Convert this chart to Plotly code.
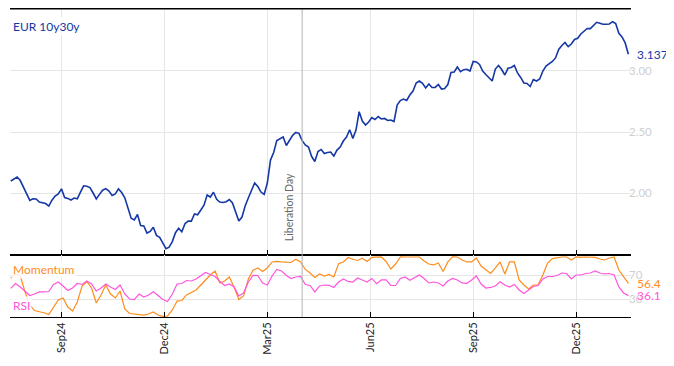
import pandas as pd
import plotly.graph_objects as go

# ---------------- data ----------------
START = "2024-07-18"
eur_10y30y = [
    2.098, 2.115, 2.131, 2.102, 2.049, 1.994, 1.939, 1.953, 1.951, 1.926,
    1.920, 1.914, 1.893, 1.941, 1.975, 1.992, 2.034, 1.963, 1.956, 1.943,
    1.959, 1.953, 2.008, 2.059, 2.056, 2.045, 2.000, 1.951, 1.989, 2.023,
    2.036, 2.016, 1.980, 1.993, 2.034, 2.004, 1.961, 1.875, 1.793, 1.780,
    1.824, 1.734, 1.730, 1.672, 1.685, 1.720, 1.653, 1.636, 1.591, 1.544,
    1.556, 1.602, 1.675, 1.711, 1.683, 1.748, 1.770, 1.770, 1.829, 1.822,
    1.861, 1.900, 1.984, 1.967, 2.006, 1.948, 1.926, 1.922, 1.929, 1.947,
    1.918, 1.834, 1.770, 1.803, 1.893, 1.959, 2.029, 2.082, 2.053, 2.008,
    1.988, 2.082, 2.270, 2.332, 2.430, 2.447, 2.459, 2.389, 2.430, 2.473,
    2.496, 2.489, 2.429, 2.394, 2.377, 2.299, 2.258, 2.340, 2.357, 2.324,
    2.332, 2.336, 2.303, 2.352, 2.377, 2.426, 2.459, 2.518, 2.448, 2.516,
    2.666, 2.590, 2.557, 2.582, 2.619, 2.602, 2.627, 2.607, 2.611, 2.594,
    2.598, 2.586, 2.721, 2.757, 2.770, 2.758, 2.803, 2.836, 2.902, 2.918,
    2.899, 2.861, 2.893, 2.865, 2.865, 2.889, 2.852, 2.857, 2.889, 2.988,
    2.992, 3.033, 2.994, 3.011, 3.014, 3.000, 3.078, 3.074, 3.054, 3.000,
    2.971, 2.947, 2.918, 3.016, 3.045, 3.012, 2.967, 3.022, 3.029, 3.045,
    2.984, 2.947, 2.902, 2.898, 2.873, 2.930, 2.918, 2.934, 3.000, 3.041,
    3.057, 3.078, 3.107, 3.176, 3.209, 3.234, 3.199, 3.221, 3.258, 3.268,
    3.303, 3.329, 3.348, 3.347, 3.373, 3.399, 3.391, 3.383, 3.383, 3.385,
    3.404, 3.389, 3.309, 3.279, 3.230, 3.137]

momentum = [
    65.0, 72.2, 68.8, 42.2, 20.5, 11.3, 9.3, 7.6, 4.6, 17.1,
    28.8, 32.2, 17.1, 10.5, 25.5, 52.2, 59.3, 48.8, 23.8, 37.2,
    53.8, 38.8, 32.2, 43.8, 13.8, 6.3, 5.5, 5.5, 3.8, 5.5,
    8.8, 3.8, 1.6, 2.2, 12.2, 27.1, 28.0, 37.2, 41.3, 45.5,
    53.8, 63.0, 70.5, 77.2, 57.2, 60.5, 67.2, 50.5, 29.6, 35.5,
    63.8, 78.3, 82.2, 76.3, 82.2, 92.2, 93.3, 92.2, 92.2, 91.3,
    96.7, 92.2, 79.7, 73.8, 66.3, 72.2, 68.8, 71.3, 67.2, 89.3,
    92.2, 99.7, 96.7, 94.7, 98.3, 93.0, 99.7, 100.5, 100.5, 93.0,
    80.5, 88.8, 100.8, 100.5, 100.8, 100.5, 100.5, 93.8, 88.8, 87.2,
    90.5, 76.3, 92.2, 100.8, 100.5, 95.5, 92.2, 92.2, 98.8, 85.5,
    78.8, 73.0, 82.2, 92.2, 72.2, 92.2, 92.2, 62.2, 53.8, 47.1,
    53.8, 53.8, 70.5, 90.5, 97.9, 99.7, 100.5, 100.5, 95.5, 100.8,
    99.7, 100.5, 100.5, 99.7, 97.1, 95.5, 98.8, 100.5, 78.8, 67.2,
    56.4]

rsi = [
    48.3, 56.3, 50.5, 43.0, 36.3, 38.8, 42.2, 42.2, 43.0, 54.7,
    58.8, 52.2, 44.7, 48.8, 56.3, 54.7, 60.5, 55.5, 43.8, 48.8,
    55.5, 50.5, 46.3, 53.8, 38.8, 30.5, 29.6, 38.8, 33.8, 37.2,
    42.6, 36.3, 29.6, 26.3, 38.8, 55.5, 56.3, 61.3, 60.5, 63.8,
    68.8, 74.6, 71.3, 68.0, 60.0, 53.0, 55.5, 50.5, 35.5, 40.5,
    58.8, 70.0, 69.7, 57.2, 53.8, 68.8, 79.7, 77.2, 69.7, 64.7,
    67.2, 68.0, 54.7, 53.0, 42.2, 52.2, 53.8, 53.3, 49.7, 58.8,
    63.8, 59.7, 58.8, 65.5, 62.2, 58.8, 64.7, 56.0, 62.2, 62.2,
    53.3, 53.0, 64.7, 67.2, 61.7, 66.3, 70.5, 64.7, 57.2, 58.8,
    57.2, 52.2, 60.5, 64.7, 62.2, 57.2, 56.7, 62.2, 68.8, 55.5,
    48.8, 49.7, 52.2, 59.3, 53.8, 50.5, 54.7, 45.5, 39.6, 45.5,
    51.3, 53.0, 63.8, 68.0, 68.0, 69.7, 73.8, 73.0, 63.8, 70.5,
    70.5, 73.0, 73.8, 77.2, 73.8, 72.2, 73.0, 70.5, 50.5, 40.5,
    36.1]

tick_dates = ["2024-09-02", "2024-12-02", "2025-03-03", "2025-06-02", "2025-09-01", "2025-12-01"]
tick_labels = ["Sep24", "Dec24", "Mar25", "Jun25", "Sep25", "Dec25"]
event_date = "2025-04-02"
event_label = "Liberation Day"

# ---------------- figure ----------------
bdays = pd.bdate_range(START, periods=391)
dates_top = bdays[::2]
dates_bot = bdays[::3]

BLUE = "#1538a6"
ORANGE = "#ff8c1a"
MAGENTA = "#ff55dd"
GRID = "#e6e6e6"
LABEL_GREY = "#cfcfcf"
FONT = "Lato"
D = 62 / 308
XRANGE = ["2024-07-17 12:00", "2026-01-16 16:00"]

fig = go.Figure()
fig.add_trace(go.Scatter(x=dates_top, y=eur_10y30y, mode="lines",
                         line=dict(color=BLUE, width=1.6), xaxis="x", yaxis="y",
                         showlegend=False, hoverinfo="skip"))
fig.add_trace(go.Scatter(x=dates_bot, y=momentum, mode="lines",
                         line=dict(color=ORANGE, width=1.2), xaxis="x2", yaxis="y2",
                         showlegend=False, hoverinfo="skip"))
fig.add_trace(go.Scatter(x=dates_bot, y=rsi, mode="lines",
                         line=dict(color=MAGENTA, width=1.2), xaxis="x2", yaxis="y2",
                         showlegend=False, hoverinfo="skip"))

xcommon = dict(type="date", range=XRANGE, rangebreaks=[dict(bounds=["sat", "mon"])],
               tickmode="array", tickvals=tick_dates, ticktext=tick_labels,
               ticks="inside", ticklen=5, tickcolor="black", tickwidth=1,
               showline=True, linecolor="black", linewidth=1, mirror=True,
               showgrid=True, gridcolor=GRID, gridwidth=1, zeroline=False)

# the page body adds an 8px offset, so the figure is sized to fit the window
fig.update_layout(
    width=666, height=358,
    margin=dict(l=2, r=43, t=1, b=49),
    paper_bgcolor="white", plot_bgcolor="white",
    font=dict(family=FONT, size=12, color="#222"),
    xaxis=dict(domain=[0, 1], anchor="y", showticklabels=False, **xcommon),
    xaxis2=dict(domain=[0, 1], anchor="y2", showticklabels=True, tickangle=-90,
                tickfont=dict(size=11, color="#222"), **xcommon),
    yaxis=dict(domain=[D, 1], anchor="x", side="right", range=[1.492, 3.508],
               tickmode="array", tickvals=[2.0, 2.5, 3.0], ticktext=["2.00", "2.50", "3.00"],
               tickfont=dict(size=11.5, color=LABEL_GREY), showgrid=True, gridcolor=GRID,
               zeroline=False, showline=False, ticks="", ticklabelstandoff=-3),
    yaxis2=dict(domain=[0, D], anchor="x2", side="right", range=[0.5, 103.8],
                tickmode="array", tickvals=[30, 70], ticktext=["30", "70"],
                tickfont=dict(size=11.5, color=LABEL_GREY), showgrid=True, gridcolor=GRID,
                zeroline=False, showline=False, ticks="", ticklabelstandoff=-3),
    shapes=[
        dict(type="line", xref="x", yref="paper", x0=event_date, x1=event_date,
             y0=0, y1=1, line=dict(color="#b4b4b4", width=1)),
        dict(type="line", xref="paper", yref="paper", x0=0, x1=1, y0=1, y1=1,
             line=dict(color="black", width=1)),
    ],
)

bg = "rgba(255,255,255,0.85)"
fig.add_annotation(text="EUR 10y30y", xref="paper", yref="paper", x=0, y=1,
                   xanchor="left", yanchor="top", xshift=1, yshift=-8, showarrow=False,
                   font=dict(color=BLUE, size=12), bgcolor=bg)
fig.add_annotation(text="Momentum", xref="paper", yref="paper", x=0, y=D,
                   xanchor="left", yanchor="top", xshift=1, yshift=-5, showarrow=False,
                   font=dict(color=ORANGE, size=12), bgcolor=bg)
fig.add_annotation(text="RSI", xref="paper", yref="paper", x=0, y=0,
                   xanchor="left", yanchor="bottom", xshift=1, yshift=2, showarrow=False,
                   font=dict(color=MAGENTA, size=12), bgcolor=bg)
fig.add_annotation(text=f"{eur_10y30y[-1]:.3f}", xref="paper", yref="y", x=1, y=eur_10y30y[-1],
                   xanchor="left", yanchor="middle", xshift=4, showarrow=False,
                   font=dict(color=BLUE, size=12))
fig.add_annotation(text=f"{momentum[-1]:.1f}", xref="paper", yref="y2", x=1, y=momentum[-1],
                   xanchor="left", yanchor="middle", xshift=4, showarrow=False,
                   font=dict(color=ORANGE, size=12))
fig.add_annotation(text=f"{rsi[-1]:.1f}", xref="paper", yref="y2", x=1, y=rsi[-1],
                   xanchor="left", yanchor="middle", xshift=4, showarrow=False,
                   font=dict(color=MAGENTA, size=12))
fig.add_annotation(text=event_label, xref="x", yref="y domain", x=event_date, y=0,
                   xanchor="center", yanchor="bottom", xshift=-13, yshift=12,
                   textangle=-90, showarrow=False, font=dict(color="#666", size=10.5))

fig.write_html("out.html")
